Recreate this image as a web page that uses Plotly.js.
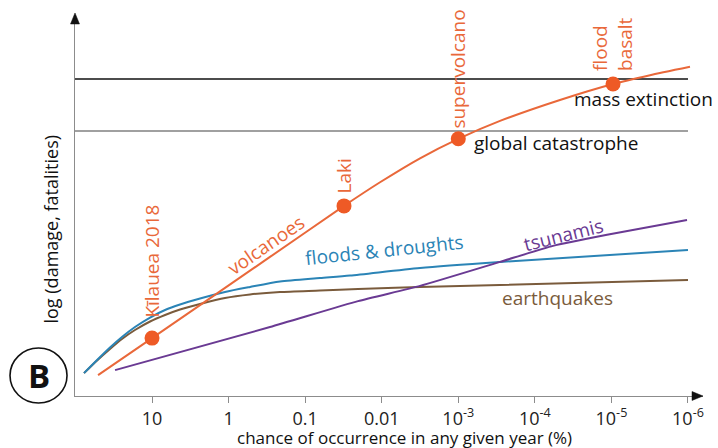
<!DOCTYPE html>
<html>
<head>
<meta charset="utf-8">
<script src="https://cdn.plot.ly/plotly-3.0.1.min.js"></script>
<style>html,body{margin:0;padding:0;background:#fff;}#chart{width:718px;height:448px;}</style>
</head>
<body>
<div id="chart"></div>
<script>
// ---- data (x = chance of occurrence per year, %, y = log damage, arbitrary units) ----
const volcanoX = [50.7, 10, 0.288, 0.0311, 0.01052, 0.00316, 0.001, 2.85e-4, 4.70e-5, 9.53e-6, 3.13e-6, 9.42e-7];
const volcanoY = [0.55, 1.52, 3.65, 4.99, 5.61, 6.24, 6.75, 7.22, 7.77, 8.19, 8.42, 8.64];

const floodX = [77.3, 52.2, 35.4, 24.7, 16.7, 10.6, 6.76, 4.31, 2.36, 1.114, 0.525, 0.213, 0.064, 0.0259, 0.00316, 2.85e-4, 1e-6];
const floodY = [0.60, 0.945, 1.273, 1.549, 1.811, 2.060, 2.257, 2.402, 2.559, 2.730, 2.861, 3.005, 3.097, 3.163, 3.360, 3.517, 3.832];

const quakeX = [77.3, 52.2, 35.4, 24.7, 16.7, 10.6, 6.76, 4.31, 2.36, 1.114, 0.525, 0.213, 0.064, 0.0204, 0.00316, 1e-6];
const quakeY = [0.60, 0.932, 1.234, 1.496, 1.732, 1.955, 2.126, 2.270, 2.415, 2.572, 2.664, 2.730, 2.769, 2.808, 2.861, 3.045];

const tsunamiX = [30.4, 0.288, 0.0204, 0.00316, 2.85e-4, 5.79e-5, 1.14e-5, 1.03e-6];
const tsunamiY = [0.68, 1.81, 2.49, 2.89, 3.52, 3.94, 4.23, 4.62];

const eventNames = ["Kīlauea 2018", "Laki", "supervolcano", "flood<br>basalt"];
const eventX = [10, 0.0311, 0.001, 9.53e-6];
const eventY = [1.52, 4.99, 6.75, 8.19];

const thresholdNames = ["mass extinction", "global catastrophe"];
const thresholdY = [8.32, 6.955];
const thresholdX = [101.4, 1e-6];

const tickVals = [10, 1, 0.1, 0.01, 1e-3, 1e-4, 1e-5, 1e-6];
const tickText = ["10", "1", "0.1", "0.01", "10<sup>-3</sup>", "10<sup>-4</sup>", "10<sup>-5</sup>", "10<sup>-6</sup>"];

// ---- styles ----
const ORANGE = "#E9683A", DOT = "#EE5A26", BLUE = "#2B84B6", BROWN = "#7A5B3C", PURPLE = "#6A3A93";
const FONT = "Open Sans, Noto Sans, sans-serif";
const LBL = 19;
const L = Math.log10;

const traces = [
  {x: thresholdX, y: [thresholdY[0], thresholdY[0]], mode: "lines", line: {color: "#111", width: 1.5}, hoverinfo: "skip"},
  {x: thresholdX, y: [thresholdY[1], thresholdY[1]], mode: "lines", line: {color: "#808080", width: 1.3}, hoverinfo: "skip"},
  {x: quakeX, y: quakeY, mode: "lines", line: {color: BROWN, width: 2, shape: "spline", smoothing: 0.7}},
  {x: floodX, y: floodY, mode: "lines", line: {color: BLUE, width: 2, shape: "spline", smoothing: 0.7}},
  {x: tsunamiX, y: tsunamiY, mode: "lines", line: {color: PURPLE, width: 2, shape: "spline", smoothing: 0.5}},
  {x: volcanoX, y: volcanoY, mode: "lines", line: {color: ORANGE, width: 2, shape: "spline", smoothing: 0.5}},
  {x: eventX, y: eventY, mode: "markers", marker: {color: DOT, size: 15}, cliponaxis: false}
];

const ann = [];
const eventShift = [18, 10, 8, 11];
eventNames.forEach((n, i) => {
  ann.push({x: L(eventX[i]), y: eventY[i], xref: "x", yref: "y", text: n, showarrow: false,
    textangle: -90, xanchor: "center", yanchor: "bottom", yshift: eventShift[i], align: "left",
    font: {family: FONT, size: LBL, color: ORANGE}});
});
// threshold labels
ann.push({x: -5.425, y: 7.80, xref: "x", yref: "y", text: thresholdNames[0], showarrow: false,
  xanchor: "center", yanchor: "middle", font: {family: FONT, size: LBL, color: "#111"}});
ann.push({x: -4.276, y: 6.64, xref: "x", yref: "y", text: thresholdNames[1], showarrow: false,
  xanchor: "center", yanchor: "middle", font: {family: FONT, size: LBL, color: "#111"}});
// series labels
ann.push({x: -0.49, y: 3.96, xref: "x", yref: "y", text: "volcanoes", showarrow: false, textangle: -34.5,
  xanchor: "center", yanchor: "middle", font: {family: FONT, size: LBL, color: ORANGE}});
ann.push({x: -2.03, y: 3.82, xref: "x", yref: "y", text: "floods &amp; droughts", showarrow: false, textangle: -6,
  xanchor: "center", yanchor: "middle", font: {family: FONT, size: LBL, color: BLUE}});
ann.push({x: -4.368, y: 4.22, xref: "x", yref: "y", text: "tsunamis", showarrow: false, textangle: -14,
  xanchor: "center", yanchor: "middle", font: {family: FONT, size: LBL, color: PURPLE}});
ann.push({x: -4.30, y: 2.58, xref: "x", yref: "y", text: "earthquakes", showarrow: false,
  xanchor: "center", yanchor: "middle", font: {family: FONT, size: LBL, color: BROWN}});
// axis titles
ann.push({x: -0.0398, y: 0.437, xref: "paper", yref: "paper", text: "log (damage, fatalities)", showarrow: false,
  textangle: -90, xanchor: "center", yanchor: "middle", font: {family: FONT, size: 18, color: "#111"}});
ann.push({x: 0.524, y: -0.108, xref: "paper", yref: "paper", text: "chance of occurrence in any given year (%)", showarrow: false,
  xanchor: "center", yanchor: "middle", borderpad: 0, font: {family: FONT, size: 17, color: "#111"}});
// panel letter
ann.push({x: -0.0581, y: 0.0538, xref: "paper", yref: "paper", text: "<b>B</b>", showarrow: false,
  xanchor: "center", yanchor: "middle", font: {family: FONT, size: 33, color: "#111"}});

const layout = {
  width: 718, height: 448,
  margin: {l: 75, r: 15, t: 15, b: 52},
  paper_bgcolor: "#fff", plot_bgcolor: "#fff",
  showlegend: false,
  font: {family: FONT, size: 18, color: "#222"},
  xaxis: {type: "log", range: [2.006, -6.196], showgrid: false, zeroline: false,
    showline: true, linecolor: "#8c8c8c", linewidth: 1.2,
    ticks: "outside", ticklen: 6, tickcolor: "#8c8c8c", tickwidth: 1,
    tickvals: tickVals, ticktext: tickText, tickfont: {family: FONT, size: 18, color: "#222"}},
  yaxis: {range: [0, 10], showgrid: false, zeroline: false, showticklabels: false, ticks: "",
    showline: true, linecolor: "#8c8c8c", linewidth: 1.2},
  annotations: ann,
  shapes: [
    {type: "circle", xref: "paper", yref: "paper", x0: -0.1035, x1: -0.0127, y0: -0.0184, y1: 0.126,
      line: {color: "#111", width: 1.6}},
    // axis arrowheads
    {type: "path", xref: "paper", yref: "paper", path: "M 0 1.00525 L -0.00716 0.9764 L 0.00716 0.9764 Z",
      fillcolor: "#111", line: {color: "#111", width: 0.5}},
    {type: "path", xref: "paper", yref: "paper", path: "M 1 0 L 0.9825 0.0118 L 0.9825 -0.0118 Z",
      fillcolor: "#111", line: {color: "#111", width: 0.5}}
  ]
};

Plotly.newPlot("chart", traces, layout, {displayModeBar: false, staticPlot: true});
</script>
</body>
</html>
